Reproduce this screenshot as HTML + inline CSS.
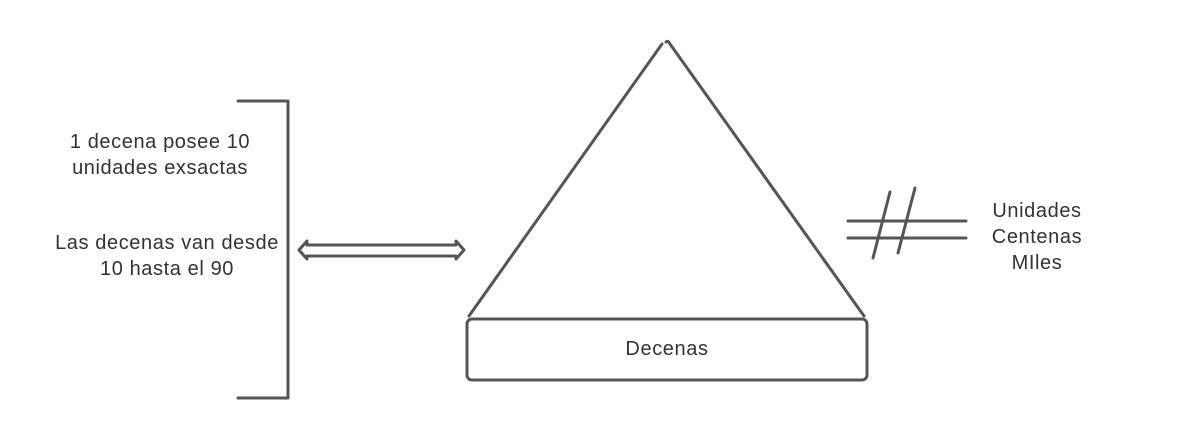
<!DOCTYPE html>
<html><head><style>
body{margin:0;background:#fff;}
svg text{font-family:"Liberation Sans",sans-serif;font-size:20px;letter-spacing:0.6px;fill:#333;}
</style></head><body>
<svg width="1197" height="440" viewBox="0 0 1197 440">
<g fill="none" stroke="#555" stroke-width="3" stroke-linecap="round" stroke-linejoin="round">
<path d="M238 101 H288 V398 H238"/>
<path d="M666 42 Q668 40 670 44 L864 316 M662 44 L469 316" />
<rect x="467" y="319" width="400" height="61" rx="5"/>
<path d="M307 245 H456 L456 241 L464 250 L456 259 L456 256 H307 L307 259 L299 250 L307 241 Z"/>
<path d="M848 221 H966 M848 238 H966 M890 192 L873 258 M915 188 L898 253"/>
</g>
<text x="160" y="148" text-anchor="middle">1 decena posee 10</text>
<text x="160" y="174" text-anchor="middle">unidades exsactas</text>
<text x="167" y="249" text-anchor="middle">Las decenas van desde</text>
<text x="167" y="275" text-anchor="middle">10 hasta el 90</text>
<text x="667" y="355" text-anchor="middle">Decenas</text>
<text x="1037" y="217" text-anchor="middle">Unidades</text>
<text x="1037" y="243" text-anchor="middle">Centenas</text>
<text x="1037" y="269" text-anchor="middle">MIles</text>
</svg>
</body></html>
